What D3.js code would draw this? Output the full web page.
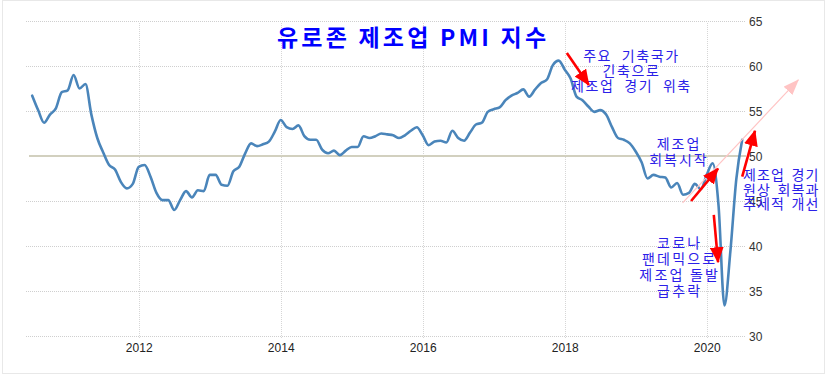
<!DOCTYPE html>
<html><head><meta charset="utf-8">
<script src="https://cdn.jsdelivr.net/npm/d3@7"></script>
<style>
html,body{margin:0;padding:0;background:#fff;}
svg{display:block;}
</style></head>
<body>
<svg id="chart" width="827" height="378"></svg>
<script>
// ---- data ----
const startYear = 2010, startMonth = 7; // Jul 2010
const pmiValues = [
  56.7,55.1,53.7,54.6,55.3,57.1,                              // 2010 Jul-Dec
  57.3,59.0,57.5,58.0,54.6,52.0,50.4,49.0,48.5,47.1,46.4,46.9, // 2011
  48.8,49.0,47.7,45.9,45.1,45.1,44.0,45.1,46.1,45.4,46.2,46.1, // 2012
  47.9,47.9,46.8,46.7,48.3,48.8,50.3,51.4,51.1,51.3,51.6,52.7, // 2013
  54.0,53.2,53.0,53.4,52.2,51.8,51.8,50.7,50.3,50.6,50.1,50.6, // 2014
  51.0,51.0,52.2,52.0,52.2,52.5,52.4,52.3,52.0,52.3,52.8,53.2, // 2015
  52.3,51.2,51.6,51.7,51.5,52.8,52.0,51.7,52.6,53.5,53.7,54.9, // 2016
  55.2,55.4,56.2,56.7,57.0,57.4,56.6,57.4,58.1,58.5,60.1,60.6, // 2017
  59.6,58.6,56.6,56.2,55.5,54.9,55.1,54.6,53.2,52.0,51.8,51.4, // 2018
  50.5,49.3,47.5,47.9,47.7,47.6,46.5,47.0,45.7,45.9,46.9,46.3, // 2019
  47.9,49.2,44.5,33.4,39.4,47.4,51.8                           // 2020 Jan-Jul
];
const yearTicks = [2012, 2014, 2016, 2018, 2020];
const valueTicks = [30, 35, 40, 45, 50, 55, 60, 65];
const titleText = "유로존 제조업 PMI 지수";

const annoText1 = ["주요 기축국가", "긴축으로", "제조업 경기 위축"];
const annoText2 = ["제조업", "회복시작"];
const annoText3 = ["코로나", "팬데믹으로", "제조업 돌발", "급추락"];
const annoText4 = ["제조업 경기", "원상 회복과", "추세적 개선"];

// annotation anchors in data space [year, value]
const anno1Pos = [2018.94, [60.6, 58.9, 57.2]];
const anno2Pos = [2019.61, [50.8, 49.0]];
const anno3Pos = [2019.62, [39.8, 37.95, 36.2, 34.4]];
const anno4Pos = [2020.51, [47.3, 45.7, 44.1]];
const redArrows = [
  [[2018.03, 61.45], [2018.34, 57.9]],
  [[2019.78, 45.0], [2020.16, 48.6]],
  [[2020.10, 43.45], [2020.16, 38.2]],
  [[2020.50, 47.7], [2020.68, 52.8]]
];
const pinkArrow = [[2019.66, 44.8], [2021.29, 58.45]];

// ---- build ----
const data = pmiValues.map((v, i) => ({
  t: startYear + (startMonth - 1 + i) / 12,
  v: v
}));

const svg = d3.select("#chart");
const x = d3.scaleLinear().domain([2010.5, 2020.5]).range([32.2, 742.2]);
const y = d3.scaleLinear().domain([30, 65]).range([336, 21]);
const gridLeft = 26, gridRight = 746;

// frame
svg.append("rect").attr("x", 2.5).attr("y", 0.5).attr("width", 822).attr("height", 373)
  .attr("fill", "none").attr("stroke", "#e8e8e8");

// horizontal grid
svg.append("g").selectAll("line").data(valueTicks.filter(d => d !== 50)).join("line")
  .attr("x1", gridLeft).attr("x2", gridRight)
  .attr("y1", d => Math.round(y(d)) + 0.5).attr("y2", d => Math.round(y(d)) + 0.5)
  .attr("stroke", "#cfcfcf").attr("stroke-width", 1).attr("stroke-dasharray", "1,1");

// vertical grid
svg.append("g").selectAll("line").data(yearTicks).join("line")
  .attr("x1", d => Math.round(x(d)) + 0.5).attr("x2", d => Math.round(x(d)) + 0.5)
  .attr("y1", y(65) + 2).attr("y2", y(30) + 3)
  .attr("stroke", "#d6d6d6").attr("stroke-width", 1).attr("stroke-dasharray", "1,1");

// 50 line
svg.append("line").attr("x1", 29).attr("x2", gridRight)
  .attr("y1", y(50)).attr("y2", y(50))
  .attr("stroke", "#d2d0bf").attr("stroke-width", 2);

// axes labels
const yAxis = d3.axisRight(y).tickValues(valueTicks).tickSize(0).tickPadding(0);
const gy = svg.append("g").attr("transform", `translate(749,0)`).call(yAxis);
gy.select(".domain").remove();
gy.selectAll("text").attr("font-family", "Liberation Sans, Arial, sans-serif")
  .attr("font-size", 12).attr("fill", "#333").attr("dy", "0.35em");

const xAxis = d3.axisBottom(x).tickValues(yearTicks).tickFormat(d3.format("d")).tickSize(0).tickPadding(0);
const gx = svg.append("g").attr("transform", `translate(0,343)`).call(xAxis);
gx.select(".domain").remove();
gx.selectAll("text").attr("font-family", "Liberation Sans, Arial, sans-serif")
  .attr("font-size", 12).attr("fill", "#222").attr("dy", "0.71em");

// line
const line = d3.line().x(d => x(d.t)).y(d => y(d.v)).curve(d3.curveMonotoneX);
svg.append("path").datum(data).attr("d", line)
  .attr("fill", "none").attr("stroke", "#4a85ba").attr("stroke-width", 2.6)
  .attr("stroke-linejoin", "round").attr("stroke-linecap", "round");

// markers
const defs = svg.append("defs");
defs.append("marker").attr("id", "redHead").attr("markerUnits", "userSpaceOnUse")
  .attr("viewBox", "0 0 16 14").attr("refX", 15).attr("refY", 7)
  .attr("markerWidth", 16).attr("markerHeight", 14).attr("orient", "auto")
  .append("path").attr("d", "M0,0 L16,7 L0,14 Z").attr("fill", "#ff0000");
defs.append("marker").attr("id", "pinkHead").attr("markerUnits", "userSpaceOnUse")
  .attr("viewBox", "0 0 16 12").attr("refX", 15).attr("refY", 6)
  .attr("markerWidth", 16).attr("markerHeight", 12).attr("orient", "auto")
  .append("path").attr("d", "M0,0 L16,6 L0,12 Z").attr("fill", "#ffc4c4");

svg.append("line")
  .attr("x1", x(pinkArrow[0][0])).attr("y1", y(pinkArrow[0][1]))
  .attr("x2", x(pinkArrow[1][0])).attr("y2", y(pinkArrow[1][1]))
  .attr("stroke", "#ffc4c4").attr("stroke-width", 1.2).attr("marker-end", "url(#pinkHead)");

// title
const blue = "#2b20e8";
svg.append("text").attr("x", 277).attr("y", 46)
  .attr("font-family", "Noto Sans CJK KR").attr("font-weight", 700)
  .attr("font-size", 23).attr("letter-spacing", 3.2).attr("fill", "#0000ff")
  .text(titleText);

// annotations
function block(lines, pos, anchor, size, ls, ws) {
  svg.append("g").selectAll("text").data(lines).join("text")
    .attr("x", x(pos[0])).attr("y", (d, i) => y(pos[1][i]))
    .attr("text-anchor", anchor)
    .attr("font-family", "Noto Sans CJK KR").attr("font-size", size)
    .attr("letter-spacing", ls).attr("word-spacing", ws).attr("fill", blue).text(d => d);
}
block(annoText1, anno1Pos, "middle", 14, 1.6, 5);
block(annoText2, anno2Pos, "middle", 14, 2, 0);
block(annoText3, anno3Pos, "middle", 14, 2.2, 0);
block(annoText4, anno4Pos, "start", 14, 1.2, 2);

// red arrows
svg.append("g").selectAll("line").data(redArrows).join("line")
  .attr("x1", d => x(d[0][0])).attr("y1", d => y(d[0][1]))
  .attr("x2", d => x(d[1][0])).attr("y2", d => y(d[1][1]))
  .attr("stroke", "#ff0000").attr("stroke-width", 2.6).attr("marker-end", "url(#redHead)");
</script>
</body></html>
